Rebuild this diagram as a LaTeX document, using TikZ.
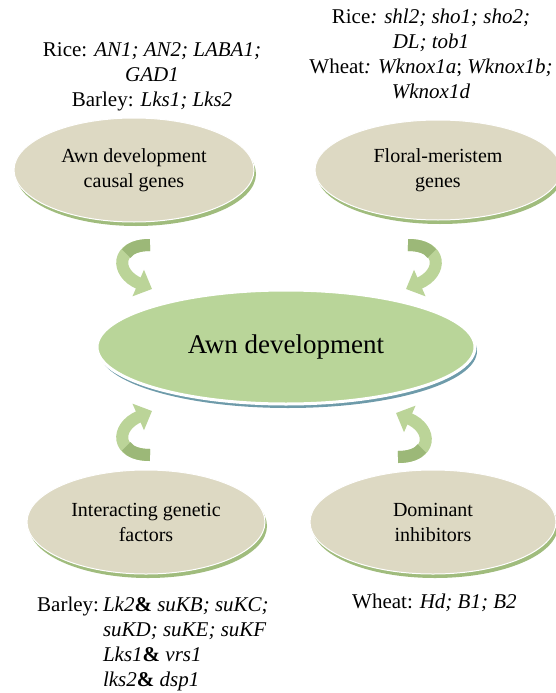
\documentclass[tikz,border=0pt]{standalone}
\usepackage{fontspec}
\setmainfont{Liberation Serif}
\usetikzlibrary{arrows.meta,shapes.geometric,shadows}
\definecolor{beige}{RGB}{221,217,195}
\definecolor{beigeshadow}{RGB}{160,188,125}
\definecolor{centralgreen}{RGB}{185,213,153}
\definecolor{centralshadow}{RGB}{110,155,170}
\definecolor{arrowlight}{RGB}{187,212,152}
\definecolor{arrowdark}{RGB}{156,184,120}
\begin{document}
\begin{tikzpicture}[x=1pt,y=-1pt,
  txt/.style={font=\fontsize{21}{25}\selectfont, align=center, inner sep=0pt},
  oval/.style={ellipse, fill=beige, draw=white, line width=1pt,
    minimum width=238pt, minimum height=104pt, inner sep=0pt,
    font=\fontsize{20}{25}\selectfont, align=center,
    drop shadow={shadow xshift=2pt, shadow yshift=-4pt, fill=beigeshadow, opacity=1}},
  bigoval/.style={ellipse, fill=centralgreen, draw=white, line width=3pt,
    minimum width=378pt, minimum height=114pt, inner sep=0pt,
    font=\fontsize{27}{32}\selectfont,
    drop shadow={shadow xshift=2pt, shadow yshift=-4pt, fill=centralshadow, opacity=1}},
  curvearrow/.pic={
    \coordinate (-s) at (15,-20);
    \coordinate (-e) at (17,24);
    \draw[line width=12pt, arrowlight, -{Triangle[width=28pt,length=15pt]}]
      (-s) .. controls (-20,-20) and (-20,8) .. (-e);
    \draw[line width=12pt, arrowdark]
      (-s) .. controls (2.75,-20) and (-5.21,-16.57) .. (-8.8,-11.43);
  }
]
\useasboundingbox (0,0) rectangle (556,693);
\fill[white] (0,0) rectangle (556,693);

% arrows
\pic (a1) at (135,265) {curvearrow};
\pic[xscale=-1] (a2) at (423,265) {curvearrow};
\pic[yscale=-1] (a3) at (135,435) {curvearrow};
\pic[xscale=-1,yscale=-1] (a4) at (413,437) {curvearrow};

% ellipses
\node[oval, minimum width=240pt] (tl) at (134,170) {Awn development\\causal genes};
\node[oval, minimum width=246pt, minimum height=100pt] (tr) at (438,170) {Floral-meristem\\genes};
\node[bigoval] (c) at (286,347) {Awn development};
\node[oval] (bl) at (146,522) {Interacting genetic\\factors};
\node[oval, minimum width=246pt] (br) at (433,522) {Dominant\\inhibitors};

% gene lists
\node[txt, anchor=north] (tltext) at (152,42)
  {Rice: \textit{AN1; AN2; LABA1;}\\ \textit{GAD1}\\ Barley: \textit{Lks1; Lks2}};
\node[txt, anchor=north] (trtext) at (431,9)
  {Rice\textit{: shl2; sho1; sho2;}\\ \textit{DL; tob1}\\ Wheat\textit{: Wknox1a}; \textit{Wknox1b;}\\ \textit{Wknox1d}};
\node[txt, anchor=north west, align=left] (bltext) at (37,594)
  {\begin{tabular}{@{}l@{}l@{}}
   Barley:\hspace{4pt} & \textit{Lk2}\textbf{\&} \textit{suKB; suKC;}\\
   & \textit{suKD; suKE; suKF}\\
   & \textit{Lks1}\textbf{\&} \textit{vrs1}\\
   & \textit{lks2}\textbf{\&} \textit{dsp1}
   \end{tabular}};
\node[txt, anchor=north west] (brtext) at (352,594) {Wheat: \textit{Hd; B1; B2}};
\end{tikzpicture}
\end{document}
